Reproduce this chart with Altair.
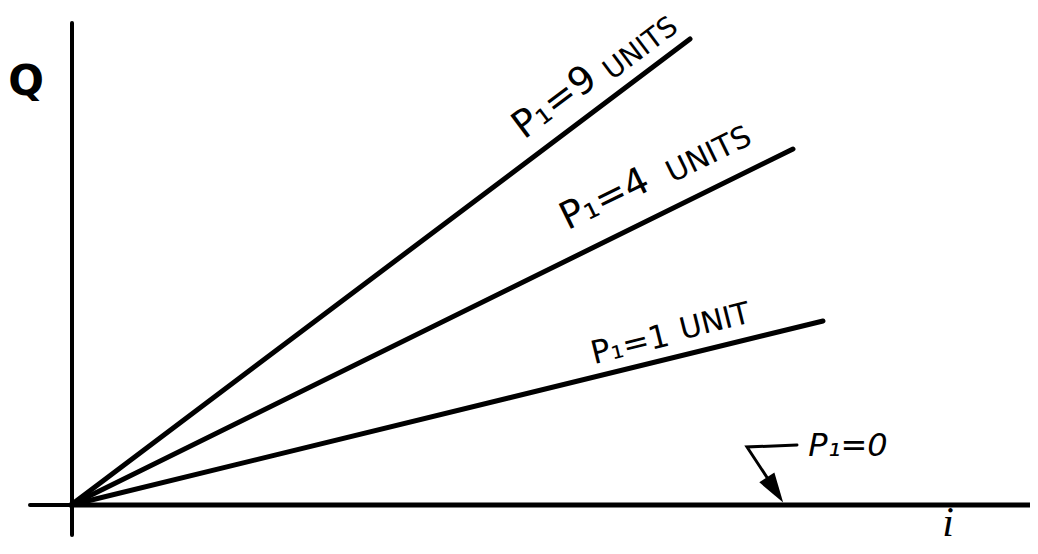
import altair as alt
import pandas as pd

# ---- data (i = horizontal, Q = vertical) ----
series = ["P₁=9", "P₁=4", "P₁=1", "P₁=0"]
end_i = [61.9, 72.2, 75.2, 96.0]
end_q = [46.6, 35.6, 18.4, 0.0]

# axis segments
axis_names = ["Q-axis", "Q-axis", "i-axis", "i-axis"]
axis_i = [0.1, 0.1, -4.1, 0.0]
axis_q = [48.2, -3.0, 0.0, 0.0]

# labels along the lines
lab_text = ["P₁=9", "UNITS", "P₁=4", "UNITS", "P₁=1", "UNIT"]
lab_i = [48.4, 57.0, 53.4, 63.8, 55.9, 64.4]
lab_q = [40.2, 45.6, 30.5, 35.0, 16.0, 18.3]
lab_angle = [323, 323, 334, 334, 346, 346]
lab_size = [38, 28, 38, 30, 32, 30]

# P1 = 0 annotation
p0_text = ["P₁=0"]
p0_i = [77.7]
p0_q = [5.9]
leader_i = [72.6, 67.6, 69.9]
leader_q = [6.0, 5.8, 2.3]
head_i = [70.4]
head_q = [1.5]

# axis titles
title_text = ["Q"]
title_i = [-4.5]
title_q = [42.3]
xlab_text = ["i"]
xlab_i = [87.7]
xlab_q = [-1.8]

# ---- tables ----
rows = []
for s, ei, eq in zip(series, end_i, end_q):
    rows.append({"s": s, "i": 0.0, "q": 0.0, "o": 0})
    rows.append({"s": s, "i": ei, "q": eq, "o": 1})
lines_df = pd.DataFrame(rows)
axis_df = pd.DataFrame({"s": axis_names, "i": axis_i, "q": axis_q, "o": [0, 1, 0, 1]})
lab_df = pd.DataFrame({"t": lab_text, "i": lab_i, "q": lab_q, "a": lab_angle, "z": lab_size})
p0_df = pd.DataFrame({"t": p0_text, "i": p0_i, "q": p0_q})
leader_df = pd.DataFrame({"i": leader_i, "q": leader_q, "o": [0, 1, 2]})
head_df = pd.DataFrame({"i": head_i, "q": head_q})
title_df = pd.DataFrame({"t": title_text, "i": title_i, "q": title_q})
xlab_df = pd.DataFrame({"t": xlab_text, "i": xlab_i, "q": xlab_q})

xs = alt.Scale(domain=[-6.3, 95.9], nice=False, zero=False)
ys = alt.Scale(domain=[-4.1, 49.7], nice=False, zero=False)

def X():
    return alt.X("i:Q", scale=xs, axis=None)

def Y():
    return alt.Y("q:Q", scale=ys, axis=None)

axes = alt.Chart(axis_df).mark_line(color="black", strokeWidth=4, strokeCap="round").encode(
    x=X(), y=Y(), detail="s:N", order="o:Q")

lines = alt.Chart(lines_df).mark_line(color="black", strokeWidth=5, strokeCap="round").encode(
    x=X(), y=Y(), detail="s:N", order="o:Q")

labels = alt.Chart(lab_df).mark_text(color="black", font="DejaVu Sans", align="center",
                                     baseline="middle").encode(
    x=X(), y=Y(), text="t:N",
    angle=alt.Angle("a:Q", scale=None),
    size=alt.Size("z:Q", scale=None, legend=None))

p0 = alt.Chart(p0_df).mark_text(color="black", font="DejaVu Sans", fontStyle="italic",
                                fontSize=32, align="center", baseline="middle").encode(
    x=X(), y=Y(), text="t:N")

leader = alt.Chart(leader_df).mark_line(color="black", strokeWidth=3, strokeCap="round",
                                        strokeJoin="miter").encode(
    x=X(), y=Y(), order="o:Q")

head = alt.Chart(head_df).mark_point(shape="M-0.6,-1L0.6,-1L0,1Z", filled=True, color="black",
                                     opacity=1, size=900, angle=327).encode(x=X(), y=Y())

qlab = alt.Chart(title_df).mark_text(color="black", font="DejaVu Sans", fontWeight="bold",
                                     fontSize=42, align="center", baseline="middle").encode(
    x=X(), y=Y(), text="t:N")

ilab = alt.Chart(xlab_df).mark_text(color="black", font="Liberation Serif", fontStyle="italic",
                                    fontSize=42, align="center", baseline="middle").encode(
    x=X(), y=Y(), text="t:N")

chart = alt.layer(axes, lines, labels, p0, leader, head, qlab, ilab).properties(
    width=1022, height=538, autosize=alt.AutoSizeParams(type="none"), padding=0,
    background="white"
).configure_view(stroke=None)

chart.save("out.html", embed_options={"renderer": "svg", "actions": False})
